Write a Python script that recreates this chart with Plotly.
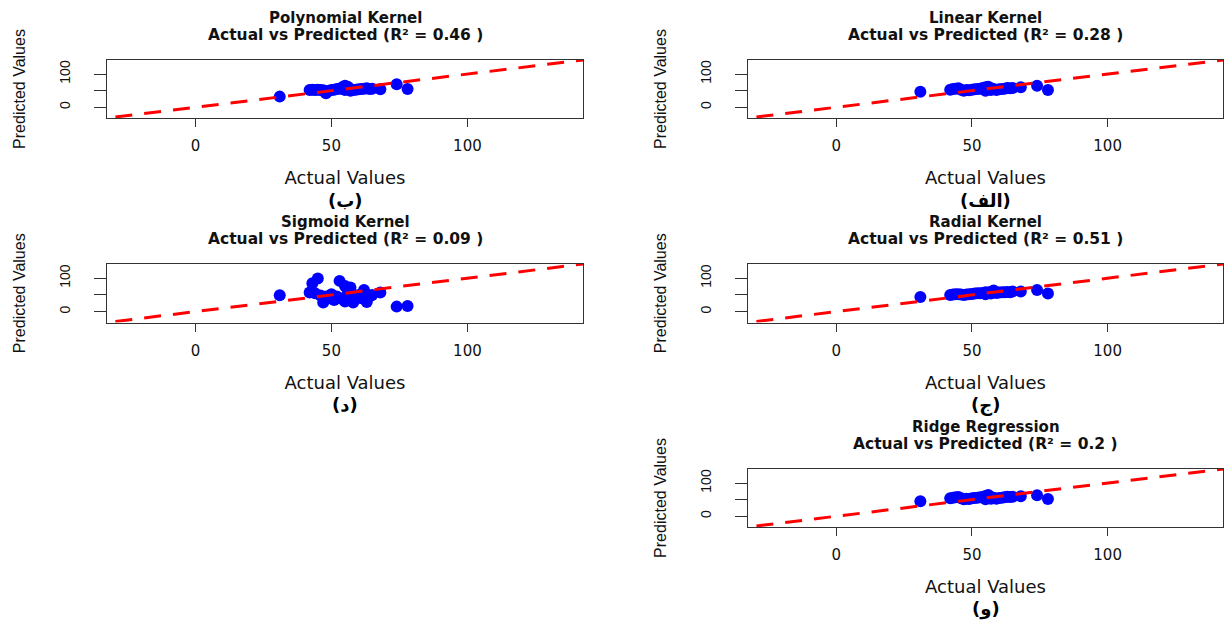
import plotly.graph_objects as go

# ---- data ----
actual = [31, 42, 43, 44, 45, 46, 47, 48, 49, 50, 51, 52, 53, 54, 55, 55,
          56, 57, 57, 58, 59, 60, 61, 62, 63, 64, 65, 68, 74, 78]

pred_poly = [32, 52, 53, 52, 53, 52, 51, 42, 50, 52, 53, 55, 56, 60, 65, 52,
             62, 55, 50, 52, 53, 54, 55, 56, 57, 55, 56, 54, 69, 55]
pred_linear = [47, 53, 55, 56, 57, 53, 50, 52, 51, 53, 54, 55, 56, 58, 60, 50,
               62, 57, 52, 55, 52, 54, 55, 56, 58, 57, 58, 60, 65, 52]
pred_sigmoid = [49, 57, 85, 55, 99, 48, 27, 45, 40, 52, 35, 45, 92, 38, 77, 30,
                55, 72, 35, 27, 45, 50, 40, 65, 29, 45, 50, 57, 15, 17]
pred_radial = [44, 50, 51, 52, 52, 51, 50, 51, 52, 53, 54, 55, 55, 56, 58, 52,
               57, 59, 54, 63, 56, 57, 58, 58, 59, 58, 60, 60, 65, 54]
pred_ridge = [45, 54, 56, 57, 58, 54, 51, 53, 52, 54, 55, 56, 57, 58, 61, 51,
              64, 58, 53, 56, 53, 55, 56, 57, 59, 58, 59, 60, 63, 52]

model_names = ["Polynomial Kernel", "Linear Kernel", "Sigmoid Kernel",
               "Radial Kernel", "Ridge Regression"]
r2_values = ["0.46", "0.28", "0.09", "0.51", "0.2"]
panel_labels = ["(ب)", "(الف)", "(د)", "(ج)", "(و)"]
predictions = [pred_poly, pred_linear, pred_sigmoid, pred_radial, pred_ridge]

ref_line = [-40, 150]          # y = x reference line
axis_range = [-32.5, 142.5]
x_ticks = [0, 50, 100]
y_ticks = [0, 50, 100]
y_tick_text = ["0", "", "100"]

# ---- layout geometry ----
W, H = 1224, 622
col_x = [(107 / W, 583 / W), (748 / W, 1223 / W)]
row_y = [(1 - 118 / H, 1 - 60 / H), (1 - 322.5 / H, 1 - 264 / H), (1 - 527 / H, 1 - 469 / H)]
positions = [(0, 0), (1, 0), (0, 1), (1, 1), (1, 2)]  # (col, row)

TXT = "#111111"
LINE = "#333333"
sans_wide = "DejaVu Sans"
sans = "Liberation Sans, Arial, sans-serif"

fig = go.Figure()
annotations = []
layout = {}

for i in range(5):
    k = i + 1
    xa = "x" if k == 1 else f"x{k}"
    ya = "y" if k == 1 else f"y{k}"
    c, r = positions[i]

    fig.add_trace(go.Scatter(
        x=actual, y=predictions[i], mode="markers",
        marker=dict(color="#0000FF", size=12, line=dict(width=0)),
        xaxis=xa, yaxis=ya, showlegend=False, name=model_names[i]))
    fig.add_trace(go.Scatter(
        x=ref_line, y=ref_line, mode="lines",
        line=dict(color="#FF0000", width=3, dash="17px,12px"),
        xaxis=xa, yaxis=ya, showlegend=False, hoverinfo="skip"))

    layout[f"xaxis{k}" if k > 1 else "xaxis"] = dict(
        domain=list(col_x[c]), anchor=ya, range=axis_range,
        showline=True, mirror=True, linecolor=LINE, linewidth=1,
        ticks="outside", ticklen=8, tickwidth=1, tickcolor=LINE,
        tickvals=x_ticks, showgrid=False, zeroline=False,
        tickfont=dict(family=sans_wide, size=15, color=TXT),
        ticklabelstandoff=6,
        title=dict(text="Actual Values", standoff=17,
                   font=dict(family=sans_wide, size=18, color=TXT)),
        automargin=False)
    layout[f"yaxis{k}" if k > 1 else "yaxis"] = dict(
        domain=list(row_y[r]), anchor=xa, range=axis_range,
        showline=True, mirror=True, linecolor=LINE, linewidth=1,
        ticks="outside", ticklen=12, tickwidth=1, tickcolor=LINE,
        tickvals=y_ticks, ticktext=y_tick_text, tickangle=-90,
        showgrid=False, zeroline=False,
        tickfont=dict(family=sans, size=14, color=TXT),
        ticklabelstandoff=18,
        title=dict(text="Predicted Values", standoff=27,
                   font=dict(family=sans, size=16, color=TXT)),
        automargin=False)

    xd = f"{xa} domain"
    yd = f"{ya} domain"
    annotations.append(dict(text=f"<b>{model_names[i]}</b>", xref=xd, yref=yd,
                            x=0.5, y=1, yshift=42, showarrow=False,
                            xanchor="center", yanchor="middle",
                            font=dict(family=sans_wide, size=15, color=TXT)))
    annotations.append(dict(text=f"<b>Actual vs Predicted (R² = {r2_values[i]} )</b>",
                            xref=xd, yref=yd, x=0.5, y=1, yshift=25,
                            showarrow=False, xanchor="center", yanchor="middle",
                            font=dict(family=sans_wide, size=15.5, color=TXT)))
    annotations.append(dict(text=f"<b>{panel_labels[i]}</b>", xref=xd, yref=yd,
                            x=0.5, y=0, yshift=-82, showarrow=False,
                            xanchor="center", yanchor="middle",
                            font=dict(family=sans_wide, size=18, color="#000000")))

fig.update_layout(
    width=W, height=H, margin=dict(l=0, r=0, t=0, b=0),
    paper_bgcolor="white", plot_bgcolor="white",
    annotations=annotations, showlegend=False, **layout)

fig.write_html("out.html")
